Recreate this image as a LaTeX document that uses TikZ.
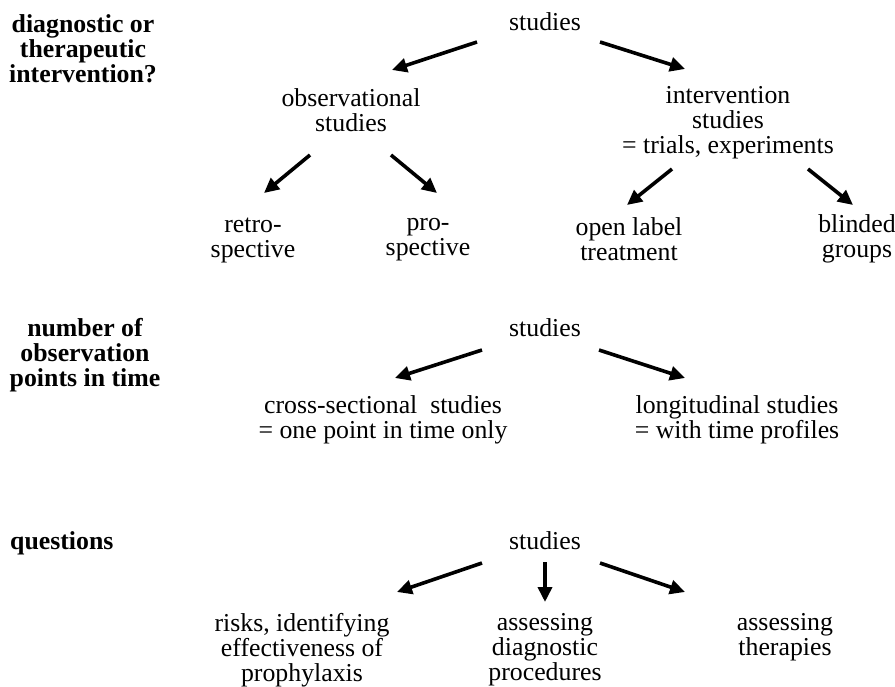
\documentclass[tikz,border=0pt]{standalone}
\usepackage{fontspec}
\setmainfont{Liberation Serif}
\usetikzlibrary{arrows.meta,calc}

\tikzset{
  txt/.style={inner sep=0pt, align=center, font=\fontsize{25.8}{25}\selectfont},
  head/.style={txt, font=\fontsize{25.8}{25}\selectfont\bfseries},
  arr/.style={line width=3.6pt, -{Triangle[length=15pt,width=14pt]}},
}

\begin{document}
\begin{tikzpicture}[x=1pt,y=-1pt]
\useasboundingbox (0,0) rectangle (895,686);

% ---- classification by kind of intervention ----
\node[head] (q1) at (83,49) {diagnostic or\\therapeutic\\intervention?};
\node[txt] (s1) at (545,22) {studies};
\node[txt] (obs) at (351,110) {observational\\studies};
\node[txt] (int) at (728,123) {intervention\\studies\\= trials, experiments};
\node[txt] (retro) at (253,240) {retro-\\spective};
\node[txt] (pro) at (428,240) {pro-\\spective};
\node[txt] (open) at (629,239) {open label\\treatment};
\node[txt] (blind) at (857,239) {blinded\\groups};

\draw[arr] ($(s1)+(-68,20)$) -- ($(obs)+(41,-40)$);
\draw[arr] ($(s1)+(55,20)$) -- ($(int)+(-43,-54)$);
\draw[arr] ($(obs)+(-41,45)$) -- ($(retro)+(11,-47)$);
\draw[arr] ($(obs)+(40,45)$) -- ($(pro)+(9,-47)$);
\draw[arr] ($(int)+(-56,46)$) -- ($(open)+(-2,-34)$);
\draw[arr] ($(int)+(80,46)$) -- ($(blind)+(-4,-34)$);

% ---- classification by points in time ----
\node[head] (q2) at (85,355) {number of\\observation\\points in time};
\node[txt] (s2) at (545,328) {studies};
\node[txt] (cross) at (383,420) {cross-sectional\ \ studies\\= one point in time only};
\node[txt] (long) at (737,420) {longitudinal studies\\= with time profiles};

\draw[arr] ($(s2)+(-63,22)$) -- ($(cross)+(12,-42)$);
\draw[arr] ($(s2)+(54,22)$) -- ($(long)+(-52,-42)$);

% ---- classification by question ----
\node[head, anchor=west] (q3) at (10,543) {questions};
\node[txt] (s3) at (545,541) {studies};
\node[txt] (risk) at (302,650) {risks, identifying\\effectiveness of\\prophylaxis};
\node[txt] (diag) at (545,650) {assessing\\diagnostic\\procedures};
\node[txt] (ther) at (785,637) {assessing\\therapies};

\draw[arr] ($(s3)+(-63,22)$) -- ($(risk)+(95,-58)$);
\draw[arr] ($(s3)+(0,21)$) -- ($(diag)+(0,-48)$);
\draw[arr] ($(s3)+(55,22)$) -- ($(ther)+(-100,-45)$);
\end{tikzpicture}
\end{document}
